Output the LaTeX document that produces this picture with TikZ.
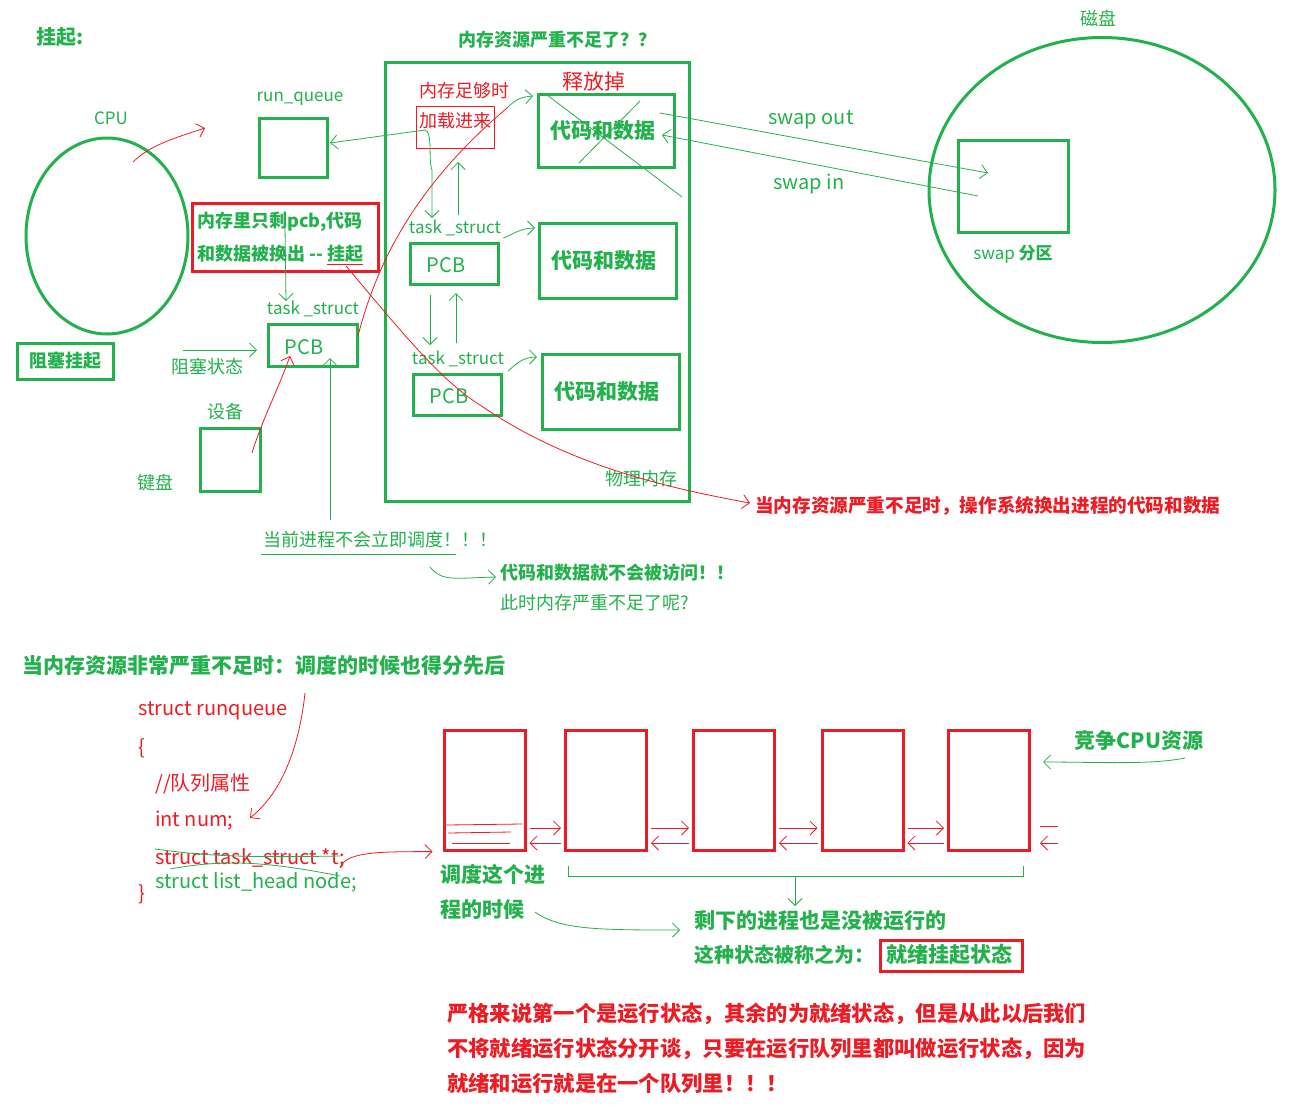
\documentclass[tikz,border=0pt]{standalone}
\usepackage{fontspec}
\setmainfont{Noto Sans CJK SC}
\usetikzlibrary{arrows.meta,shapes.geometric}
\definecolor{pg}{RGB}{34,177,76}
\definecolor{pr}{RGB}{237,28,36}
\tikzset{
  gbox/.style={draw=pg,line width=3pt,inner sep=0pt},
  rbox/.style={draw=pr,line width=3pt,inner sep=0pt},
  gthin/.style={draw=pg,line width=0.8pt},
  rthin/.style={draw=pr,line width=0.8pt},
  tip/.style={-{Straight Barb[length=7pt,width=14pt,line width=0.8pt]}},
  gl/.style={text=pg,inner sep=0pt,font=\fontsize{#1}{#1}\selectfont},
  gb/.style={text=pg,inner sep=0pt,font=\fontsize{#1}{#1}\selectfont\bfseries},
  rl/.style={text=pr,inner sep=0pt,font=\fontsize{#1}{#1}\selectfont},
  rb/.style={text=pr,inner sep=0pt,font=\fontsize{#1}{#1}\selectfont\bfseries},
}
\begin{document}
\begin{tikzpicture}[x=1pt,y=-1pt]
\fill[white] (0,0) rectangle (1293,1109);
\useasboundingbox (0,0) rectangle (1293,1109);

% ---------- top: boxes ----------
\node[gb=20] (ttl) at (60,37) {挂起:};
\node[draw=pg,line width=3pt,ellipse,minimum width=162pt,minimum height=196pt] (cpu) at (107,236) {};
\node[gl=17] (cpul) at (111,118) {CPU};
\node[gl=17] (rql) at (300,99) {run\_queue};
\node[gbox,minimum width=68pt,minimum height=59pt] (rq) at (293,147.5) {};
\node[rbox,minimum width=186pt,minimum height=68pt] (note) at (285,237) {};
\node[gb=18,anchor=west] (note1) at (197,222) {内存里只剩pcb,代码};
\node[gb=18,anchor=west] (note2) at (197,255) {和数据被换出 -{}- {\color{pr}\underline{\textcolor{pg}{挂起}}}};
\node[gl=17] (ts1) at (313,309) {task \_struct};
\node[gbox,minimum width=89pt,minimum height=42pt] (pcb1) at (312.5,345) {};
\node[gl=20] (pcb1t) at (304,347) {PCB};
\node[gbox,minimum width=96pt,minimum height=36pt] (blk) at (65,361) {};
\node[gb=18] (blkt) at (65,361) {阻塞挂起};
\node[gl=18] (blks) at (207,367) {阻塞状态};
\node[gl=18] (devl) at (225,412) {设备};
\node[gbox,minimum width=60pt,minimum height=63pt] (dev) at (230,459.5) {};
\node[gl=18] (kbd) at (155,483) {键盘};

% memory
\node[gb=18] (memttl) at (557,40) {内存资源严重不足了？？};
\node[gbox,minimum width=304pt,minimum height=439pt] (mem) at (537,281.5) {};
\node[rl=18] (enough) at (464,91) {内存足够时};
\node[draw=pr,line width=0.8pt,minimum width=78pt,minimum height=42pt,inner sep=0pt] (load) at (455,127) {};
\node[rl=18] (loadt) at (455,121) {加载进来};
\node[rl=21] (free) at (594,82) {释放掉};
\node[gbox,minimum width=136pt,minimum height=73pt] (cd1) at (606,130.5) {};
\node[gbox,minimum width=137pt,minimum height=75pt] (cd2) at (607.5,260.5) {};
\node[gbox,minimum width=137pt,minimum height=75pt] (cd3) at (610.5,391.5) {};
\node[gb=21] (cd1t) at (603,131) {代码和数据};
\node[gb=21] (cd2t) at (604,261) {代码和数据};
\node[gb=21] (cd3t) at (607,392) {代码和数据};
\node[gl=17] (ts2) at (455,228) {task \_struct};
\node[gbox,minimum width=88pt,minimum height=41pt] (pcb2) at (454,263.5) {};
\node[gl=20] (pcb2t) at (446,265) {PCB};
\node[gl=17] (ts3) at (458,359) {task \_struct};
\node[gbox,minimum width=88pt,minimum height=41pt] (pcb3) at (457,394.5) {};
\node[gl=20] (pcb3t) at (449,396) {PCB};
\node[gl=18] (phys) at (641,479) {物理内存};

% disk
\node[gl=18] (diskl) at (1098,18) {磁盘};
\node[draw=pg,line width=3pt,ellipse,minimum width=346pt,minimum height=305pt] (disk) at (1102,190) {};
\node[gbox,minimum width=110pt,minimum height=92pt] (swp) at (1013,186) {};
\node[text=pg,inner sep=0pt,font=\fontsize{17}{17}\selectfont] (swpl) at (1013,254) {swap \textbf{分区}};
\node[gl=20] (swout) at (811,120) {swap out};
\node[gl=20] (swin) at (809,184) {swap in};

% notes
\node[rb=18.6,anchor=west] (swapnote) at (755,506) {当内存资源严重不足时，操作系统换出进程的代码和数据};
\node[gl=18,anchor=west] (nosched) at (263,540) {当前进程不会立即调度！！！};
\node[gb=18,anchor=west] (noacc) at (500,573) {代码和数据就不会被访问！！};
\node[gl=18,anchor=west] (q) at (500,603) {此时内存严重不足了呢?};

% ---------- coordinates for freehand connectors ----------
\coordinate (cpuA) at (133,162);
\coordinate (cpuB) at (205,128);
\coordinate (bend) at (425,130);
\coordinate (rqin) at (330,143);
\coordinate (d1e) at (432,218);
\coordinate (u1s) at (458,215);
\coordinate (u1e) at (458,162);
\coordinate (d2s) at (430,295);
\coordinate (d2e) at (430,345);
\coordinate (u2s) at (456,343);
\coordinate (u2e) at (456,293);
\coordinate (r1s) at (358,336);
\coordinate (r1e) at (507,108);
\coordinate (gua) at (346,266);
\coordinate (swo1) at (660,113);
\coordinate (swo2) at (988,173);
\coordinate (swi1) at (978,196);
\coordinate (swi2) at (662,135);
\coordinate (devA) at (252,453);
\coordinate (pcbB) at (290,356);
\coordinate (vA) at (330,520);
\coordinate (vB) at (330,358);
\coordinate (nA) at (285,226);
\coordinate (nB) at (286,301);
\coordinate (bsA) at (183,350);
\coordinate (bsB) at (257,350);
\coordinate (caA) at (430,567);
\coordinate (caB) at (496,577);

% ---------- top connectors ----------
\draw[rthin,tip] (cpuA) .. controls (150,145) and (175,138) .. (cpuB);
\draw[gthin,tip] (bend) -- (rqin);
\draw[gthin,tip] (bend) .. controls (433,132) and (428,160) .. (432,170) -- (d1e);
\draw[gthin,tip] (u1s) -- (u1e);
\draw[gthin,tip] (d2s) -- (d2e);
\draw[gthin,tip] (u2s) -- (u2e);
\draw[gthin,tip] (r1e) .. controls (515,100) and (520,97) .. (533,96);
\draw[gthin,tip] (ts2.east) ++(2,10) .. controls (512,235) and (520,228) .. (535,228);
\draw[gthin,tip] (ts3.east) ++(4,12) .. controls (515,365) and (522,357) .. (537,357);
\draw[rthin] (r1s) .. controls (375,270) and (410,190) .. (r1e);
\draw[rthin,tip] (gua) .. controls (400,330) and (440,380) .. (480,405) .. controls (560,460) and (650,485) .. (750,503);
\draw[gthin] (547,95) -- (682,197);
\draw[gthin] (579,163) -- (640,101);
\draw[gthin,tip] (swo1) -- (swo2);
\draw[gthin,tip] (swi1) -- (swi2);
\draw[rthin,tip] (devA) .. controls (262,420) and (278,390) .. (pcbB);
\draw[gthin,tip] (vA) -- (vB);
\draw[gthin,tip] (nA) -- (nB);
\draw[gthin,tip] (bsA) -- (bsB);
\draw[gthin,tip] (caA) .. controls (442,582) and (455,578) .. (caB);
\draw[pg,line width=0.8pt] (261,554) -- (456,554);

% ---------- lower section ----------
\node[gb=21,anchor=west] (ttl2) at (22,665) {当内存资源非常严重不足时：调度的时候也得分先后};
\node[rl=20,anchor=west] (c1) at (138,711) {struct runqueue};
\node[rl=20,anchor=west] (c2) at (138,748) {\{};
\node[rl=20,anchor=west] (c3) at (155,784) {//队列属性};
\node[rl=20,anchor=west] (c4) at (155,821) {int num;};
\node[rl=20,anchor=west] (c5) at (155,858) {struct task\_struct *t;};
\node[gl=20,anchor=west] (c6) at (155,882) {struct list\_head node;};
\node[rl=20,anchor=west] (c7) at (138,894) {\}};
\draw[gthin] (155,849) .. controls (200,855) and (230,858) .. (340,856);
\draw[gthin] (170,869) .. controls (220,860) and (260,860) .. (340,876);

\foreach \i/\x in {1/484.5,2/606,3/734,4/862.5,5/989}{
  \node[rbox,minimum width=81pt,minimum height=120pt] (qb\i) at (\x,790) {};
}
\draw[rthin] (446,825) -- (522,824);
\draw[rthin] (448,833) -- (511,832);
\draw[rthin] (452,843) -- (510,843);
\foreach \a/\b in {1/2,2/3,3/4,4/5}{
  \draw[rthin,tip] ([xshift=3pt]qb\a.east |- 0,828) -- ([xshift=-3pt]qb\b.west |- 0,828);
  \draw[rthin,tip] ([xshift=-3pt]qb\b.west |- 0,843) -- ([xshift=3pt]qb\a.east |- 0,843);
}
\coordinate (tailA) at (1040,826);
\coordinate (tailB) at (1058,826);
\coordinate (tailC) at (1058,843);
\coordinate (tailD) at (1040,843);
\draw[rthin] (tailA) -- (tailB);
\draw[rthin,tip] (tailC) -- (tailD);

\coordinate (cA) at (305,693);
\coordinate (cB) at (250,818);
\draw[rthin,tip] (cA) .. controls (300,740) and (285,790) .. (cB);
\coordinate (sA) at (340,868);
\draw[rthin,tip] (sA) .. controls (345,850) and (390,852) .. ([xshift=-10pt]qb1.south west);

\node[gb=21,anchor=west] (sch1) at (440,874) {调度这个进};
\node[gb=21,anchor=west] (sch2) at (440,910) {程的时候};
\draw[gthin] (568,866) -- (568,876) -- (1023,876) -- (1023,866);
\coordinate (brc) at (795,876);
\node[gb=21,anchor=west] (rest) at (694,921) {剩下的进程也是没被运行的};
\draw[gthin,tip] (brc) -- (795,906);
\coordinate (schA) at (535,912);
\draw[gthin,tip] (schA) .. controls (560,930) and (600,930) .. (680,930);
\node[gb=20,anchor=west] (call) at (694,955) {这种状态被称之为：};
\node[rbox,minimum width=142pt,minimum height=31pt] (rdy) at (951,955.5) {};
\node[gb=21] (rdyt) at (949,955) {就绪挂起状态};
\node[gb=21] (cpures) at (1139,740) {竞争CPU资源};
\coordinate (cmA) at (1185,758);
\draw[gthin,tip] (cmA) .. controls (1150,765) and (1100,762) .. ([xshift=12pt]qb5.east |- 0,762);

\node[rb=21.3,anchor=west] (b1) at (447,1014) {严格来说第一个是运行状态，其余的为就绪状态，但是从此以后我们};
\node[rb=21.3,anchor=west] (b2) at (447,1049) {不将就绪运行状态分开谈，只要在运行队列里都叫做运行状态，因为};
\node[rb=21.3,anchor=west] (b3) at (447,1084) {就绪和运行就是在一个队列里！！！};
\end{tikzpicture}
\end{document}
